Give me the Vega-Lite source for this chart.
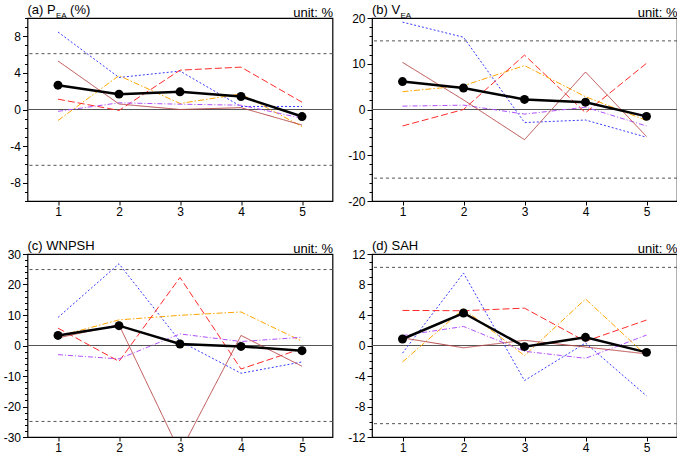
{
  "$schema": "https://vega.github.io/schema/vega-lite/v6.json",
  "padding": {"left": 2.5, "top": 3, "right": 0, "bottom": 0},
  "background": "white",
  "config": {
    "font": "Liberation Sans",
    "view": {"stroke": "black", "strokeWidth": 1.2},
    "axis": {"labelFont": "Liberation Sans", "labelFontSize": 12, "labelColor": "black", "domain": false, "grid": false, "tickColor": "black", "tickWidth": 1, "titleFont": "Liberation Sans", "titleColor": "black", "labelFlush": false, "labelOverlap": false, "labelBound": false},
    "title": {"font": "Liberation Sans", "fontSize": 13, "fontWeight": "normal", "anchor": "start", "frame": "group", "offset": -11, "baseline": "alphabetic", "color": "black"}
  },
  "datasets": {
    "d": [
      {"p":"a","m":"zero","x":null,"v":0},{"p":"a","m":"ref","x":null,"v":6.1},{"p":"a","m":"ref","x":null,"v":-6.1},
      {"p":"a","m":"mean","x":1,"v":2.66},{"p":"a","m":"mean","x":2,"v":1.68},{"p":"a","m":"mean","x":3,"v":1.93},{"p":"a","m":"mean","x":4,"v":1.42},{"p":"a","m":"mean","x":5,"v":-0.77},
      {"p":"a","m":"m1","x":1,"v":8.47},{"p":"a","m":"m1","x":2,"v":3.5},{"p":"a","m":"m1","x":3,"v":4.2},{"p":"a","m":"m1","x":4,"v":0.33},{"p":"a","m":"m1","x":5,"v":0.33},
      {"p":"a","m":"m2","x":1,"v":-1.2},{"p":"a","m":"m2","x":2,"v":3.7},{"p":"a","m":"m2","x":3,"v":0.66},{"p":"a","m":"m2","x":4,"v":1.7},{"p":"a","m":"m2","x":5,"v":-1.86},
      {"p":"a","m":"m3","x":1,"v":1.13},{"p":"a","m":"m3","x":2,"v":-0.1},{"p":"a","m":"m3","x":3,"v":4.3},{"p":"a","m":"m3","x":4,"v":4.63},{"p":"a","m":"m3","x":5,"v":0.8},
      {"p":"a","m":"m4","x":1,"v":-0.2},{"p":"a","m":"m4","x":2,"v":0.73},{"p":"a","m":"m4","x":3,"v":0.58},{"p":"a","m":"m4","x":4,"v":0.47},{"p":"a","m":"m4","x":5,"v":-0.95},
      {"p":"a","m":"m5","x":1,"v":5.3},{"p":"a","m":"m5","x":2,"v":0.6},{"p":"a","m":"m5","x":3,"v":0.0},{"p":"a","m":"m5","x":4,"v":0.2},{"p":"a","m":"m5","x":5,"v":-1.7},

      {"p":"b","m":"zero","x":null,"v":0},{"p":"b","m":"ref","x":null,"v":15},{"p":"b","m":"ref","x":null,"v":-15},
      {"p":"b","m":"mean","x":1,"v":6.1},{"p":"b","m":"mean","x":2,"v":4.7},{"p":"b","m":"mean","x":3,"v":2.2},{"p":"b","m":"mean","x":4,"v":1.6},{"p":"b","m":"mean","x":5,"v":-1.5},
      {"p":"b","m":"m1","x":1,"v":19.1},{"p":"b","m":"m1","x":2,"v":15.8},{"p":"b","m":"m1","x":3,"v":-2.85},{"p":"b","m":"m1","x":4,"v":-2.3},{"p":"b","m":"m1","x":5,"v":-6.06},
      {"p":"b","m":"m2","x":1,"v":3.9},{"p":"b","m":"m2","x":2,"v":5.2},{"p":"b","m":"m2","x":3,"v":9.6},{"p":"b","m":"m2","x":4,"v":2.8},{"p":"b","m":"m2","x":5,"v":-2.4},
      {"p":"b","m":"m3","x":1,"v":-3.6},{"p":"b","m":"m3","x":2,"v":0},{"p":"b","m":"m3","x":3,"v":11.9},{"p":"b","m":"m3","x":4,"v":-0.7},{"p":"b","m":"m3","x":5,"v":10.1},
      {"p":"b","m":"m4","x":1,"v":0.73},{"p":"b","m":"m4","x":2,"v":0.95},{"p":"b","m":"m4","x":3,"v":-1.0},{"p":"b","m":"m4","x":4,"v":0.5},{"p":"b","m":"m4","x":5,"v":-3.6},
      {"p":"b","m":"m5","x":1,"v":10.3},{"p":"b","m":"m5","x":2,"v":2.1},{"p":"b","m":"m5","x":3,"v":-6.6},{"p":"b","m":"m5","x":4,"v":8.2},{"p":"b","m":"m5","x":5,"v":-5.9},

      {"p":"c","m":"zero","x":null,"v":0},{"p":"c","m":"ref","x":null,"v":24.9},{"p":"c","m":"ref","x":null,"v":-24.9},
      {"p":"c","m":"mean","x":1,"v":3.3},{"p":"c","m":"mean","x":2,"v":6.5},{"p":"c","m":"mean","x":3,"v":0.5},{"p":"c","m":"mean","x":4,"v":-0.3},{"p":"c","m":"mean","x":5,"v":-1.7},
      {"p":"c","m":"m1","x":1,"v":9.2},{"p":"c","m":"m1","x":2,"v":26.8},{"p":"c","m":"m1","x":3,"v":1.4},{"p":"c","m":"m1","x":4,"v":-9.1},{"p":"c","m":"m1","x":5,"v":-5.4},
      {"p":"c","m":"m2","x":1,"v":3.0},{"p":"c","m":"m2","x":2,"v":8.4},{"p":"c","m":"m2","x":3,"v":9.9},{"p":"c","m":"m2","x":4,"v":11.0},{"p":"c","m":"m2","x":5,"v":1.4},
      {"p":"c","m":"m3","x":1,"v":5.7},{"p":"c","m":"m3","x":2,"v":-5.2},{"p":"c","m":"m3","x":3,"v":22.3},{"p":"c","m":"m3","x":4,"v":-7.7},{"p":"c","m":"m3","x":5,"v":-1.0},
      {"p":"c","m":"m4","x":1,"v":-3.0},{"p":"c","m":"m4","x":2,"v":-4.4},{"p":"c","m":"m4","x":3,"v":3.8},{"p":"c","m":"m4","x":4,"v":1.3},{"p":"c","m":"m4","x":5,"v":2.7},
      {"p":"c","m":"m5","x":1,"v":2.5},{"p":"c","m":"m5","x":2,"v":6.8},{"p":"c","m":"m5","x":3,"v":-35},{"p":"c","m":"m5","x":4,"v":3.3},{"p":"c","m":"m5","x":5,"v":-6.8},

      {"p":"d","m":"zero","x":null,"v":0},{"p":"d","m":"ref","x":null,"v":10.25},{"p":"d","m":"ref","x":null,"v":-10.25},
      {"p":"d","m":"mean","x":1,"v":0.85},{"p":"d","m":"mean","x":2,"v":4.26},{"p":"d","m":"mean","x":3,"v":-0.15},{"p":"d","m":"mean","x":4,"v":1.07},{"p":"d","m":"mean","x":5,"v":-0.9},
      {"p":"d","m":"m1","x":1,"v":-1.0},{"p":"d","m":"m1","x":2,"v":9.5},{"p":"d","m":"m1","x":3,"v":-4.6},{"p":"d","m":"m1","x":4,"v":0.33},{"p":"d","m":"m1","x":5,"v":-6.6},
      {"p":"d","m":"m2","x":1,"v":-2.16},{"p":"d","m":"m2","x":2,"v":4.8},{"p":"d","m":"m2","x":3,"v":-1.33},{"p":"d","m":"m2","x":4,"v":6.1},{"p":"d","m":"m2","x":5,"v":-1.33},
      {"p":"d","m":"m3","x":1,"v":4.6},{"p":"d","m":"m3","x":2,"v":4.56},{"p":"d","m":"m3","x":3,"v":4.9},{"p":"d","m":"m3","x":4,"v":0.55},{"p":"d","m":"m3","x":5,"v":3.34},
      {"p":"d","m":"m4","x":1,"v":1.3},{"p":"d","m":"m4","x":2,"v":2.5},{"p":"d","m":"m4","x":3,"v":-0.76},{"p":"d","m":"m4","x":4,"v":-1.68},{"p":"d","m":"m4","x":5,"v":1.37},
      {"p":"d","m":"m5","x":1,"v":1.0},{"p":"d","m":"m5","x":2,"v":-0.3},{"p":"d","m":"m5","x":3,"v":0.68},{"p":"d","m":"m5","x":4,"v":-0.2},{"p":"d","m":"m5","x":5,"v":-1.1}
    ]
  },
  "columns": 2,
  "spacing": {"row": 21, "column": 12.5},
  "concat": [
    {
      "width": 305, "height": 183,
      "title": {"text": "(a) P\u00a0\u00a0\u00a0\u00a0(%)"},
      "data": {"name": "d"},
      "transform": [{"filter": "datum.p === 'a'"}],
      "encoding": {
        "x": {"field": "x", "type": "quantitative", "scale": {"domain": [0.5, 5.5], "nice": false, "zero": false},
              "axis": {"values": [1, 2, 3, 4, 5], "tickSize": 4, "labelPadding": 1, "labelExpr": "'' + datum.value", "title": "EA", "titleX": 28, "titleY": -184, "titleAlign": "left", "titleBaseline": "alphabetic", "titleFontSize": 8, "titleFontWeight": "normal"}},
        "y": {"field": "v", "type": "quantitative", "scale": {"domain": [-10, 10], "nice": false, "zero": false},
              "axis": {"values": [-10,-9,-8,-7,-6,-5,-4,-3,-2,-1,0,1,2,3,4,5,6,7,8,9,10], "labelOverlap": false, "labelExpr": "datum.value % 4 === 0 ? '' + datum.value : ''", "tickSize": {"condition": {"test": "datum.value % 4 === 0", "value": 5}, "value": 3}, "labelPadding": 2, "title": "unit: %", "titleAngle": 0, "titleX": 305, "titleY": -2, "titleAlign": "right", "titleBaseline": "alphabetic", "titleFontSize": 13, "titleFontWeight": "normal"}}
      },
      "layer": [
        {"transform": [{"filter": "datum.m === 'zero'"}], "mark": {"type": "rule", "color": "#555555", "strokeWidth": 1}, "encoding": {"x": null}},
        {"transform": [{"filter": "datum.m === 'ref'"}], "mark": {"type": "rule", "color": "#555555", "strokeDash": [3, 3], "strokeWidth": 1}, "encoding": {"x": null}},
        {"transform": [{"filter": "datum.m !== 'ref' && datum.m !== 'zero' && datum.m !== 'mean'"}], "mark": {"type": "line", "strokeWidth": 1, "clip": true},
         "encoding": {
           "color": {"field": "m", "type": "nominal", "scale": {"domain": ["m1", "m2", "m3", "m4", "m5"], "range": ["#3a3aff", "#ffa500", "#ff2a2a", "#b050ff", "#b84a4a"]}, "legend": null},
           "strokeDash": {"field": "m", "type": "nominal", "scale": {"domain": ["m1", "m2", "m3", "m4", "m5"], "range": [[2, 2], [6, 2, 1.5, 2], [7, 3], [5, 2, 1, 2], [1, 0]]}, "legend": null}
         }},
        {"transform": [{"filter": "datum.m === 'mean'"}], "mark": {"type": "line", "color": "black", "strokeWidth": 2.5, "point": {"filled": true, "size": 80, "color": "black"}}, "encoding": {}}
      ]
    },
    {
      "width": 305, "height": 183,
      "title": {"text": "(b) V"},
      "data": {"name": "d"},
      "transform": [{"filter": "datum.p === 'b'"}],
      "encoding": {
        "x": {"field": "x", "type": "quantitative", "scale": {"domain": [0.5, 5.5], "nice": false, "zero": false},
              "axis": {"values": [1, 2, 3, 4, 5], "tickSize": 4, "labelPadding": 1, "labelExpr": "'' + datum.value", "title": "EA", "titleX": 28, "titleY": -184, "titleAlign": "left", "titleBaseline": "alphabetic", "titleFontSize": 8, "titleFontWeight": "normal"}},
        "y": {"field": "v", "type": "quantitative", "scale": {"domain": [-20, 20], "nice": false, "zero": false},
              "axis": {"values": [-20,-18,-16,-14,-12,-10,-8,-6,-4,-2,0,2,4,6,8,10,12,14,16,18,20], "labelOverlap": false, "labelExpr": "datum.value % 10 === 0 ? '' + datum.value : ''", "tickSize": {"condition": {"test": "datum.value % 10 === 0", "value": 5}, "value": 3}, "labelPadding": 2, "title": "unit: %", "titleAngle": 0, "titleX": 305, "titleY": -2, "titleAlign": "right", "titleBaseline": "alphabetic", "titleFontSize": 13, "titleFontWeight": "normal"}}
      },
      "layer": [
        {"transform": [{"filter": "datum.m === 'zero'"}], "mark": {"type": "rule", "color": "#555555", "strokeWidth": 1}, "encoding": {"x": null}},
        {"transform": [{"filter": "datum.m === 'ref'"}], "mark": {"type": "rule", "color": "#555555", "strokeDash": [3, 3], "strokeWidth": 1}, "encoding": {"x": null}},
        {"transform": [{"filter": "datum.m !== 'ref' && datum.m !== 'zero' && datum.m !== 'mean'"}], "mark": {"type": "line", "strokeWidth": 1, "clip": true},
         "encoding": {
           "color": {"field": "m", "type": "nominal", "scale": {"domain": ["m1", "m2", "m3", "m4", "m5"], "range": ["#3a3aff", "#ffa500", "#ff2a2a", "#b050ff", "#b84a4a"]}, "legend": null},
           "strokeDash": {"field": "m", "type": "nominal", "scale": {"domain": ["m1", "m2", "m3", "m4", "m5"], "range": [[2, 2], [6, 2, 1.5, 2], [7, 3], [5, 2, 1, 2], [1, 0]]}, "legend": null}
         }},
        {"transform": [{"filter": "datum.m === 'mean'"}], "mark": {"type": "line", "color": "black", "strokeWidth": 2.5, "point": {"filled": true, "size": 80, "color": "black"}}, "encoding": {}}
      ]
    },
    {
      "width": 305, "height": 183,
      "title": {"text": "(c) WNPSH"},
      "data": {"name": "d"},
      "transform": [{"filter": "datum.p === 'c'"}],
      "encoding": {
        "x": {"field": "x", "type": "quantitative", "scale": {"domain": [0.5, 5.5], "nice": false, "zero": false},
              "axis": {"values": [1, 2, 3, 4, 5], "tickSize": 4, "labelPadding": 1, "labelExpr": "'' + datum.value", "title": null}},
        "y": {"field": "v", "type": "quantitative", "scale": {"domain": [-30, 30], "nice": false, "zero": false},
              "axis": {"values": [-30,-28,-26,-24,-22,-20,-18,-16,-14,-12,-10,-8,-6,-4,-2,0,2,4,6,8,10,12,14,16,18,20,22,24,26,28,30], "labelOverlap": false, "labelExpr": "datum.value % 10 === 0 ? '' + datum.value : ''", "tickSize": {"condition": {"test": "datum.value % 10 === 0", "value": 5}, "value": 3}, "labelPadding": 2, "title": "unit: %", "titleAngle": 0, "titleX": 305, "titleY": -2, "titleAlign": "right", "titleBaseline": "alphabetic", "titleFontSize": 13, "titleFontWeight": "normal"}}
      },
      "layer": [
        {"transform": [{"filter": "datum.m === 'zero'"}], "mark": {"type": "rule", "color": "#555555", "strokeWidth": 1}, "encoding": {"x": null}},
        {"transform": [{"filter": "datum.m === 'ref'"}], "mark": {"type": "rule", "color": "#555555", "strokeDash": [3, 3], "strokeWidth": 1}, "encoding": {"x": null}},
        {"transform": [{"filter": "datum.m !== 'ref' && datum.m !== 'zero' && datum.m !== 'mean'"}], "mark": {"type": "line", "strokeWidth": 1, "clip": true},
         "encoding": {
           "color": {"field": "m", "type": "nominal", "scale": {"domain": ["m1", "m2", "m3", "m4", "m5"], "range": ["#3a3aff", "#ffa500", "#ff2a2a", "#b050ff", "#b84a4a"]}, "legend": null},
           "strokeDash": {"field": "m", "type": "nominal", "scale": {"domain": ["m1", "m2", "m3", "m4", "m5"], "range": [[2, 2], [6, 2, 1.5, 2], [7, 3], [5, 2, 1, 2], [1, 0]]}, "legend": null}
         }},
        {"transform": [{"filter": "datum.m === 'mean'"}], "mark": {"type": "line", "color": "black", "strokeWidth": 2.5, "point": {"filled": true, "size": 80, "color": "black"}}, "encoding": {}}
      ]
    },
    {
      "width": 305, "height": 183,
      "title": {"text": "(d) SAH"},
      "data": {"name": "d"},
      "transform": [{"filter": "datum.p === 'd'"}],
      "encoding": {
        "x": {"field": "x", "type": "quantitative", "scale": {"domain": [0.5, 5.5], "nice": false, "zero": false},
              "axis": {"values": [1, 2, 3, 4, 5], "tickSize": 4, "labelPadding": 1, "labelExpr": "'' + datum.value", "title": null}},
        "y": {"field": "v", "type": "quantitative", "scale": {"domain": [-12, 12], "nice": false, "zero": false},
              "axis": {"values": [-12,-11,-10,-9,-8,-7,-6,-5,-4,-3,-2,-1,0,1,2,3,4,5,6,7,8,9,10,11,12], "labelOverlap": false, "labelExpr": "datum.value % 4 === 0 ? '' + datum.value : ''", "tickSize": {"condition": {"test": "datum.value % 4 === 0", "value": 5}, "value": 3}, "labelPadding": 2, "title": "unit: %", "titleAngle": 0, "titleX": 305, "titleY": -2, "titleAlign": "right", "titleBaseline": "alphabetic", "titleFontSize": 13, "titleFontWeight": "normal"}}
      },
      "layer": [
        {"transform": [{"filter": "datum.m === 'zero'"}], "mark": {"type": "rule", "color": "#555555", "strokeWidth": 1}, "encoding": {"x": null}},
        {"transform": [{"filter": "datum.m === 'ref'"}], "mark": {"type": "rule", "color": "#555555", "strokeDash": [3, 3], "strokeWidth": 1}, "encoding": {"x": null}},
        {"transform": [{"filter": "datum.m !== 'ref' && datum.m !== 'zero' && datum.m !== 'mean'"}], "mark": {"type": "line", "strokeWidth": 1, "clip": true},
         "encoding": {
           "color": {"field": "m", "type": "nominal", "scale": {"domain": ["m1", "m2", "m3", "m4", "m5"], "range": ["#3a3aff", "#ffa500", "#ff2a2a", "#b050ff", "#b84a4a"]}, "legend": null},
           "strokeDash": {"field": "m", "type": "nominal", "scale": {"domain": ["m1", "m2", "m3", "m4", "m5"], "range": [[2, 2], [6, 2, 1.5, 2], [7, 3], [5, 2, 1, 2], [1, 0]]}, "legend": null}
         }},
        {"transform": [{"filter": "datum.m === 'mean'"}], "mark": {"type": "line", "color": "black", "strokeWidth": 2.5, "point": {"filled": true, "size": 80, "color": "black"}}, "encoding": {}}
      ]
    }
  ]
}
